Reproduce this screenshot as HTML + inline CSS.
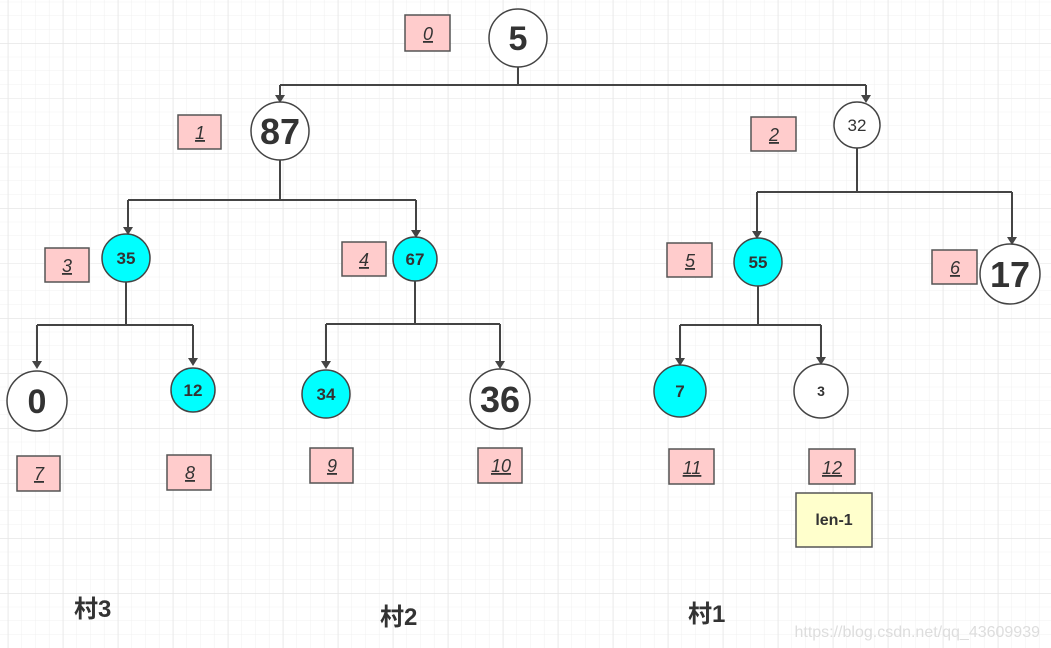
<!DOCTYPE html>
<html><head><meta charset="utf-8"><style>
html,body{margin:0;padding:0;background:#fff;}
svg{display:block;}
</style></head><body>
<svg width="1051" height="648" xmlns="http://www.w3.org/2000/svg" font-family="'Liberation Sans','Noto Sans CJK SC',sans-serif">
<defs>
<pattern id="mn" x="7.7" y="-12" width="13.75" height="13.75" patternUnits="userSpaceOnUse">
<path d="M0 0H13.75M0 0V13.75" stroke="#f0f0f0" stroke-width="1" fill="none"/>
</pattern>
<pattern id="mj" x="7.7" y="43" width="55" height="55" patternUnits="userSpaceOnUse">
<path d="M0 0H55M0 0V55" stroke="#e6e6e6" stroke-width="1.5" fill="none"/>
</pattern>
</defs>
<rect width="1051" height="648" fill="url(#mn)"/>
<rect width="1051" height="648" fill="url(#mj)"/>
<g stroke="#444" stroke-width="2" fill="none">
<path d="M518 67V85M280 85H866M280 85V96M866 85V96"/>
<path d="M280 160V200M128 200H416M128 200V228M416 200V231"/>
<path d="M857 148V192M757 192H1012M757 192V232M1012 192V238"/>
<path d="M126 282V325M37 325H193M37 325V362M193 325V359"/>
<path d="M415 281V324M326 324H500M326 324V362M500 324V362"/>
<path d="M758 286V325M680 325H821M680 325V359M821 325V358"/>
</g>
<g fill="#444">
<path d="M275 95h10l-5 8z"/><path d="M861 95h10l-5 8z"/>
<path d="M123 227h10l-5 8z"/><path d="M411 230h10l-5 8z"/>
<path d="M752 231h10l-5 8z"/><path d="M1007 237h10l-5 8z"/>
<path d="M32 361h10l-5 8z"/><path d="M188 358h10l-5 8z"/>
<path d="M321 361h10l-5 8z"/><path d="M495 361h10l-5 8z"/>
<path d="M675 358h10l-5 8z"/><path d="M816 357h10l-5 8z"/>
</g>
<g stroke="#444" stroke-width="1.5">
<circle cx="518" cy="38" r="29" fill="#fff"/>
<circle cx="280" cy="131" r="29" fill="#fff"/>
<circle cx="857" cy="125" r="23" fill="#fff"/>
<circle cx="126" cy="258" r="24" fill="#00ffff"/>
<circle cx="415" cy="259" r="22" fill="#00ffff"/>
<circle cx="758" cy="262" r="24" fill="#00ffff"/>
<circle cx="1010" cy="274" r="30" fill="#fff"/>
<circle cx="37" cy="401" r="30" fill="#fff"/>
<circle cx="193" cy="390" r="22" fill="#00ffff"/>
<circle cx="326" cy="394" r="24" fill="#00ffff"/>
<circle cx="500" cy="399" r="30" fill="#fff"/>
<circle cx="680" cy="391" r="26" fill="#00ffff"/>
<circle cx="821" cy="391" r="27" fill="#fff"/>
</g>
<g fill="#333" font-weight="bold" text-anchor="middle">
<text x="518" y="50" font-size="34">5</text>
<text x="280" y="144" font-size="36">87</text>
<text x="857" y="131" font-size="17" font-weight="normal">32</text>
<text x="126" y="264" font-size="17">35</text>
<text x="415" y="265" font-size="17">67</text>
<text x="758" y="268" font-size="17">55</text>
<text x="1010" y="287" font-size="36">17</text>
<text x="37" y="413" font-size="34">0</text>
<text x="193" y="396" font-size="17">12</text>
<text x="326" y="400" font-size="17">34</text>
<text x="500" y="412" font-size="36">36</text>
<text x="680" y="397" font-size="17">7</text>
<text x="821" y="396" font-size="14">3</text>
</g>
<g fill="#ffcccc" stroke="#555" stroke-width="1.5">
<rect x="405" y="15" width="45" height="36"/>
<rect x="178" y="115" width="43" height="34"/>
<rect x="751" y="117" width="45" height="34"/>
<rect x="45" y="248" width="44" height="34"/>
<rect x="342" y="242" width="44" height="34"/>
<rect x="667" y="243" width="45" height="34"/>
<rect x="932" y="250" width="45" height="34"/>
<rect x="17" y="456" width="43" height="35"/>
<rect x="167" y="455" width="44" height="35"/>
<rect x="310" y="448" width="43" height="35"/>
<rect x="478" y="448" width="44" height="35"/>
<rect x="669" y="449" width="45" height="35"/>
<rect x="809" y="449" width="46" height="35"/>
</g>
<g fill="#333" font-size="18" font-style="italic" text-anchor="middle" text-decoration="underline">
<text x="428" y="40">0</text>
<text x="200" y="139">1</text>
<text x="774" y="141">2</text>
<text x="67" y="272">3</text>
<text x="364" y="266">4</text>
<text x="690" y="267">5</text>
<text x="955" y="274">6</text>
<text x="39" y="480">7</text>
<text x="190" y="479">8</text>
<text x="332" y="472">9</text>
<text x="501" y="472">10</text>
<text x="692" y="474">11</text>
<text x="832" y="474">12</text>
</g>
<rect x="796" y="493" width="76" height="54" fill="#ffffcc" stroke="#555" stroke-width="1.5"/>
<text x="834" y="525" font-size="16" font-weight="bold" fill="#333" text-anchor="middle">len-1</text>
<g fill="#333" font-size="24" font-weight="bold">
<text x="74" y="617">村3</text>
<text x="380" y="625">村2</text>
<text x="688" y="622">村1</text>
</g>
<text x="1040" y="637" font-size="16" fill="#ddd" text-anchor="end">https://blog.csdn.net/qq_43609939</text>
</svg>
</body></html>
